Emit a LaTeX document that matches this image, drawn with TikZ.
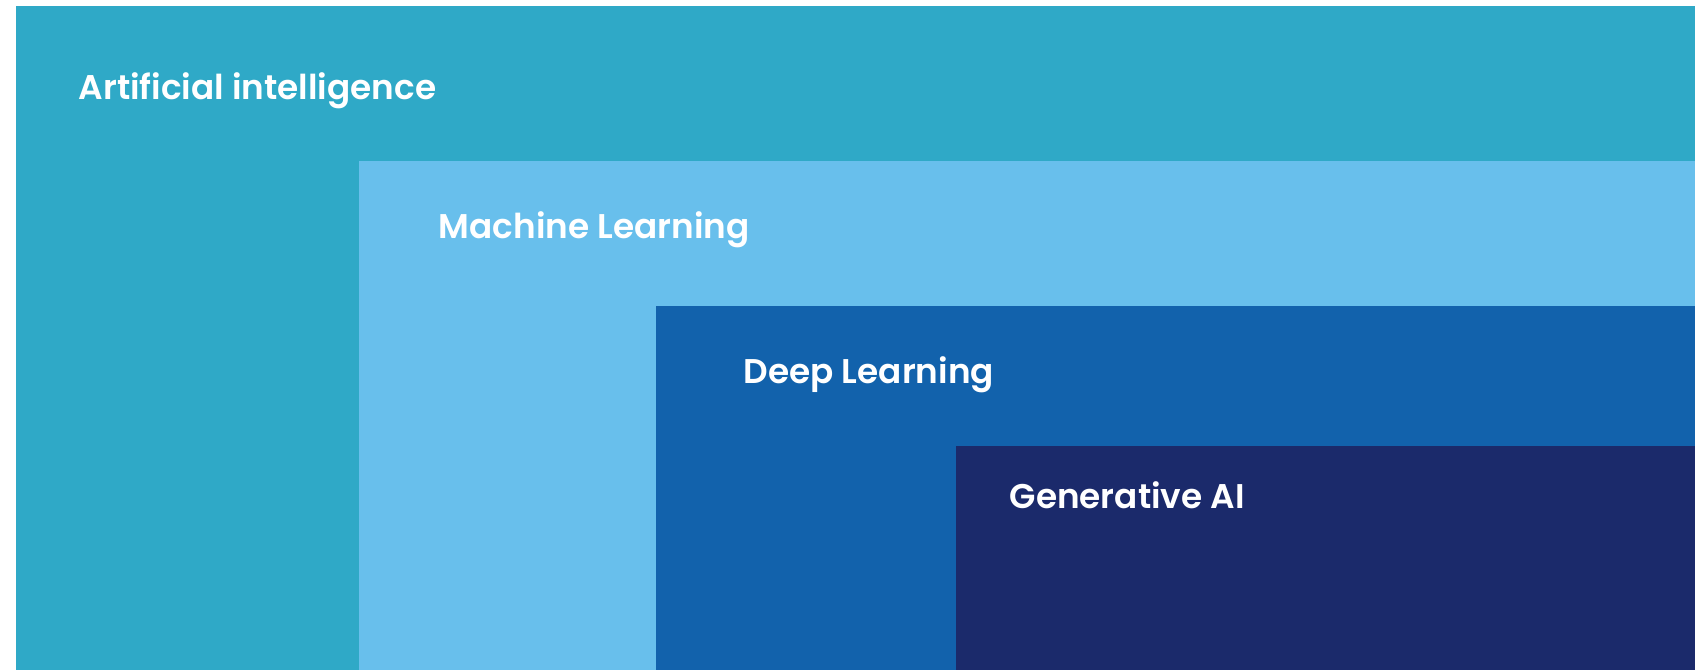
\documentclass[tikz,border=0pt]{standalone}
\usepackage{fontspec}
\setmainfont{Poppins}[UprightFont=* SemiBold]
\definecolor{aiblue}{HTML}{2FA9C7}
\definecolor{mlblue}{HTML}{68BFEC}
\definecolor{dlblue}{HTML}{1262AC}
\definecolor{genblue}{HTML}{1B2A6B}
\begin{document}
\begin{tikzpicture}[x=1mm,y=1mm,
  layer/.style={fill=#1, draw=none},
  label/.style={anchor=base west, inner sep=0pt, text=white, font=\fontsize{9.75}{12}\selectfont}]
  % canvas: 169.5 x 67 units, origin bottom-left
  \useasboundingbox[fill=white] (0,0) rectangle (169.5,67);
  % nested regions
  \fill[layer=aiblue]  (1.6,0) rectangle (169.5,66.4);
  \fill[layer=mlblue]  (35.9,0) rectangle (169.5,50.9);
  \fill[layer=dlblue]  (65.6,0) rectangle (169.5,36.4);
  \fill[layer=genblue] (95.6,0) rectangle (169.5,22.4);
  % labels
  \node[label] (ai)  at (7.8,57.0)  {Artificial intelligence};
  \node[label] (ml)  at (43.8,43.1) {Machine Learning};
  \node[label] (dl)  at (74.3,28.6) {Deep Learning};
  \node[label] (gen) at (100.9,16.1) {Generative AI};
\end{tikzpicture}
\end{document}
